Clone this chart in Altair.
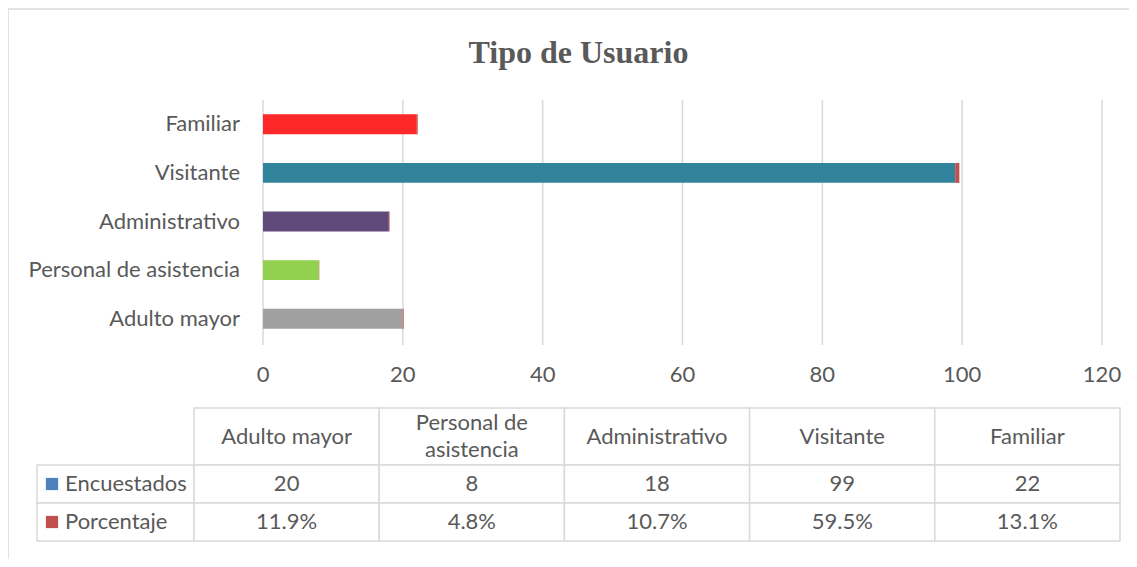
import altair as alt
import pandas as pd

# ---- data ----
categories = ["Adulto mayor", "Personal de asistencia", "Administrativo", "Visitante", "Familiar"]
encuestados = [20, 8, 18, 99, 22]
porcentaje = [0.119, 0.048, 0.107, 0.595, 0.131]
series = ["Encuestados", "Porcentaje"]
x_ticks = [0, 20, 40, 60, 80, 100, 120]
header_labels = ["Adulto mayor", "Personal de\nasistencia", "Administrativo", "Visitante", "Familiar"]

# ---- styles ----
bar_colors = ["#A0A0A0", "#92D050", "#604A7B", "#31849B", "#FF2828"]
series_colors = ["#4F81BD", "#C0504D"]
TEXT = "#595959"
GRID = "#D9D9D9"
FONT = "Lato"
FS = 22
LINE_H = 27

W, H = 1121, 551

BARX = alt.Scale(domain=[0, 120], range=[255, 1094], nice=False, zero=True)
BARY = alt.Scale(domain=categories[::-1], range=[92, 335], paddingInner=0.59, paddingOuter=0.295)
TAB_ROW_PX = 38
TABX = alt.Scale(domain=[-0.848, 5], range=[29, 1112], nice=False, zero=False)
TABY = alt.Scale(domain=[0, 3.5], range=[400, 400 + 3.5 * TAB_ROW_PX], nice=False, zero=False)

# ---- tables built from the arrays ----
bars_rows = []
for i, c in enumerate(categories):
    bars_rows.append(dict(cat=c, key=c, val=encuestados[i], ord=0))
    bars_rows.append(dict(cat=c, key=series[1], val=porcentaje[i], ord=1))
bars_df = pd.DataFrame(bars_rows)

ticks_df = pd.DataFrame({"t": x_ticks})
cats_df = pd.DataFrame({"cat": categories})

cell_rows = []
text_rows = []
for j, c in enumerate(categories):
    nlines = header_labels[j].count("\n") + 1
    shift = (nlines - 1) * LINE_H / 2 / TAB_ROW_PX
    cell_rows.append(dict(x=j, x2=j + 1, y=0, y2=1.5))
    text_rows.append(dict(x=j + 0.5, y=0.75 - shift, txt=header_labels[j]))
    text_rows.append(dict(x=j + 0.5, y=2.0, txt=str(encuestados[j])))
    text_rows.append(dict(x=j + 0.5, y=3.0, txt=f"{porcentaje[j] * 100:.1f}%"))
for r, s in enumerate(series):
    cell_rows.append(dict(x=-0.848, x2=0, y=1.5 + r, y2=2.5 + r))
    for j in range(len(categories)):
        cell_rows.append(dict(x=j, x2=j + 1, y=1.5 + r, y2=2.5 + r))
cells_df = pd.DataFrame(cell_rows)
texts_df = pd.DataFrame(text_rows)
legend_df = pd.DataFrame({"s": series, "y": [2.0, 3.0]})
one = pd.DataFrame({"a": [0]})

# ---- layers ----
border_top = alt.Chart(one).mark_rule(color=GRID, strokeWidth=1.5).encode(
    x=alt.value(0), x2=alt.value(W), y=alt.value(1))
border_left = alt.Chart(one).mark_rule(color=GRID, strokeWidth=1.5).encode(
    x=alt.value(0), y=alt.value(1), y2=alt.value(H))

grid = alt.Chart(ticks_df).mark_rule(color=GRID, strokeWidth=1.5).encode(
    x=alt.X("t:Q", scale=BARX, axis=None), y=alt.value(92), y2=alt.value(337))

tick_labels = alt.Chart(ticks_df).mark_text(font=FONT, fontSize=FS, color=TEXT, baseline="middle").encode(
    x=alt.X("t:Q", scale=BARX, axis=None), y=alt.value(367), text="t:Q")

bars = alt.Chart(bars_df).mark_bar().encode(
    x=alt.X("val:Q", stack="zero", scale=BARX, axis=None),
    y=alt.Y("cat:N", scale=BARY, axis=None, sort=None),
    color=alt.Color("key:N", scale=alt.Scale(domain=categories + [series[1]],
                                             range=bar_colors + [series_colors[1]]), legend=None),
    order=alt.Order("ord:Q"),
)

cat_labels = alt.Chart(cats_df).mark_text(font=FONT, fontSize=FS, color=TEXT, align="right",
                                          baseline="middle").encode(
    y=alt.Y("cat:N", scale=BARY, axis=None, sort=None), x=alt.value(232), text="cat:N")

cells = alt.Chart(cells_df).mark_rect(fill="white", stroke=GRID, strokeWidth=1.5).encode(
    x=alt.X("x:Q", scale=TABX, axis=None), x2="x2:Q",
    y=alt.Y("y:Q", scale=TABY, axis=None), y2="y2:Q")

cell_text = alt.Chart(texts_df).mark_text(font=FONT, fontSize=FS, color=TEXT, baseline="middle",
                                          lineBreak="\n", lineHeight=LINE_H).encode(
    x=alt.X("x:Q", scale=TABX, axis=None), y=alt.Y("y:Q", scale=TABY, axis=None), text="txt:N")

legend_sq = alt.Chart(legend_df).mark_square(size=150, opacity=1).encode(
    x=alt.value(44), y=alt.Y("y:Q", scale=TABY, axis=None),
    color=alt.Color("s:N", scale=alt.Scale(domain=series, range=series_colors), legend=None))

legend_txt = alt.Chart(legend_df).mark_text(font=FONT, fontSize=FS, color=TEXT, align="left",
                                            baseline="middle").encode(
    x=alt.value(57), y=alt.Y("y:Q", scale=TABY, axis=None), text="s:N")

chart = alt.layer(
    border_top, border_left, grid, tick_labels, bars, cat_labels, cells, cell_text, legend_sq, legend_txt
).resolve_scale(
    x="independent", y="independent", color="independent"
).properties(
    width=W, height=H, autosize="none", padding={"left": 0, "top": 0, "right": 0, "bottom": 0},
    title=alt.Title("Tipo de Usuario", font="Liberation Serif", fontSize=32, fontWeight="bold",
                    color=TEXT, anchor="middle", frame="group", offset=-62, dx=10),
).configure_view(stroke=None)

chart.save("out.html", embed_options={"renderer": "svg", "actions": False})
